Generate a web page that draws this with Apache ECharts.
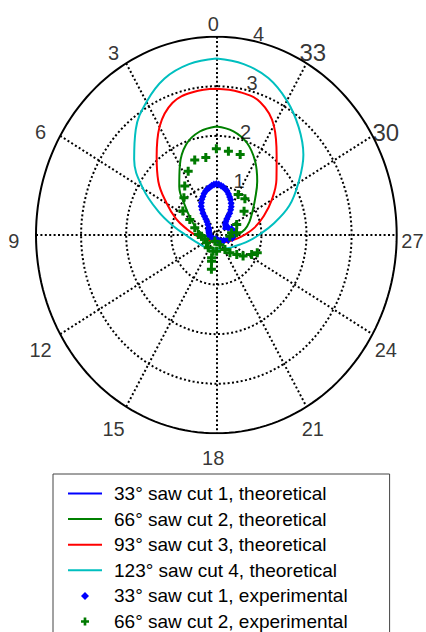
<!DOCTYPE html>
<html>
<head>
<meta charset="utf-8">
<script src="https://cdn.jsdelivr.net/npm/echarts@6/dist/echarts.min.js"></script>
<style>
  html, body { margin: 0; padding: 0; background: #fff; }
  #chart { width: 426px; height: 632px; }
</style>
</head>
<body>
<div id="chart"></div>
<script>
// angles in degrees, counter-clockwise from the top (0 = up, 90 = left)
const theoryAngles = [0, 10, 20, 30, 40, 50, 60, 70, 80, 90, 100, 110, 120, 130, 140, 150, 160, 170, 180,
  190, 200, 210, 220, 230, 240, 250, 260, 270, 280, 290, 300, 310, 320, 330, 340, 350, 360];

const cut1Theory = [1.02, 0.98, 0.87, 0.68, 0.36, 0.16, 0.14, 0.17, 0.20, 0.20, 0.17, 0.13, 0.10, 0.08, 0.07, 0.06, 0.06, 0.06, 0.06,
  0.06, 0.07, 0.08, 0.10, 0.12, 0.16, 0.22, 0.30, 0.38, 0.38, 0.32, 0.24, 0.20, 0.36, 0.68, 0.88, 0.98, 1.02];
const cut2Theory = [2.19, 2.12, 1.95, 1.62, 1.28, 0.90, 0.66, 0.50, 0.38, 0.28, 0.21, 0.17, 0.14, 0.12, 0.11, 0.10, 0.10, 0.10, 0.10,
  0.10, 0.11, 0.12, 0.13, 0.15, 0.18, 0.23, 0.32, 0.46, 0.64, 0.78, 0.92, 1.12, 1.41, 1.72, 1.98, 2.13, 2.19];
const cut3Theory = [2.95, 2.93, 2.84, 2.52, 2.06, 1.68, 1.27, 0.95, 0.66, 0.47, 0.35, 0.27, 0.22, 0.19, 0.17, 0.15, 0.14, 0.13, 0.13,
  0.14, 0.15, 0.16, 0.19, 0.22, 0.27, 0.34, 0.45, 0.62, 0.86, 1.12, 1.42, 1.74, 2.08, 2.55, 2.85, 2.93, 2.95];
const cut4Theory = [3.56, 3.50, 3.36, 3.10, 2.78, 2.38, 1.88, 1.36, 0.95, 0.68, 0.54, 0.45, 0.40, 0.36, 0.33, 0.31, 0.29, 0.28, 0.27,
  0.28, 0.30, 0.32, 0.35, 0.40, 0.46, 0.56, 0.72, 0.94, 1.28, 1.72, 2.10, 2.52, 2.84, 3.13, 3.37, 3.50, 3.56];

const cut1ExpAngles = [0, 3, 6, 9, 12, 15, 18, 21, 24, 27, 30, 32, 34, 35, 36, 38, 42, 50, 60, 70, 80, 95, 110, 140, 180,
  200, 215, 235, 250, 260, 270, 280, 290, 300, 312, 318, 322, 324, 325, 326, 328, 330, 333, 336, 339, 342, 345, 348, 351, 354, 357];
const cut1ExpRadii = [1.03, 1.02, 1.00, 0.97, 0.95, 0.92, 0.88, 0.83, 0.79, 0.73, 0.67, 0.60, 0.53, 0.46, 0.40, 0.34, 0.28, 0.22, 0.20, 0.18, 0.16, 0.15, 0.12, 0.10, 0.08,
  0.12, 0.15, 0.20, 0.28, 0.36, 0.41, 0.40, 0.36, 0.30, 0.28, 0.30, 0.34, 0.40, 0.46, 0.53, 0.60, 0.66, 0.72, 0.78, 0.82, 0.87, 0.92, 0.95, 0.98, 1.00, 1.02];

const cut2ExpAngles = [0, 8.5, 17.6, 25.9, 35.4, 43.8, 57, 62, 73, 88.6, 94, 109, 126, 145, 165, 167, 167.7, 168.6, 171, 181,
  202, 213, 220, 229, 234.3, 243.3, 248.4, 265, 275.6, 277.4, 295.3, 308, 319.1, 329.4, 342, 351];
const cut2ExpRadii = [1.74, 1.58, 1.585, 1.43, 1.21, 1.04, 0.886, 0.667, 0.50, 0.40, 0.33, 0.27, 0.27, 0.316, 0.13, 0.47, 0.335, 0.54, 0.70, 0.33,
  0.21, 0.35, 0.47, 0.60, 0.73, 0.876, 0.976, 0.30, 0.45, 0.34, 0.50, 0.78, 0.967, 0.95, 1.71, 1.71];

const angleTicks = [0, 30, 60, 90, 120, 150, 180, 210, 240, 270, 300, 330];
const angleTickLabels = ['0', '3', '6', '9', '12', '15', '18', '21', '24', '27', '30', '33'];
const radiusTicks = [1, 2, 3, 4];

const seriesNames = [
  '33° saw cut 1, theoretical',
  '66° saw cut 2, theoretical',
  '93° saw cut 3, theoretical',
  '123° saw cut 4, theoretical',
  '33° saw cut 1, experimental',
  '66° saw cut 2, experimental'
];
const seriesColors = ['#0000ff', '#008000', '#ff0000', '#00bfbf', '#0000ff', '#007a00'];

const FONT = '"Liberation Sans", Arial, Helvetica, sans-serif';
const RMAX = 4;

function toXY(theta, r) {
  const a = theta * Math.PI / 180;
  return [-r * Math.sin(a), r * Math.cos(a)];
}

function polarPairs(angles, radii) {
  return angles.map((t, i) => toXY(t, radii[i]));
}

// grid geometry
const ringCoords = radiusTicks.map(r => {
  const pts = [];
  for (let t = 0; t <= 360; t += 2) pts.push(toXY(t, r));
  return pts;
});
const spokeCoords = angleTicks.slice(0, 6).map(t => [toXY(t, RMAX), toXY(t + 180, RMAX)]);

const dotted = { color: '#000', width: 2, type: [2, 2.4], cap: 'butt', opacity: 1 };

const series = [
  {
    type: 'lines', coordinateSystem: 'cartesian2d', polyline: true, silent: true, z: 1,
    lineStyle: dotted,
    data: ringCoords.slice(0, 3).map(c => ({ coords: c }))
  },
  {
    type: 'lines', coordinateSystem: 'cartesian2d', silent: true, z: 1,
    lineStyle: dotted,
    data: spokeCoords.map(c => ({ coords: c }))
  },
  {
    type: 'lines', coordinateSystem: 'cartesian2d', polyline: true, silent: true, z: 2,
    lineStyle: { color: '#000', width: 2, type: 'solid', opacity: 1 },
    data: [{ coords: ringCoords[3] }]
  }
];

[cut1Theory, cut2Theory, cut3Theory, cut4Theory].forEach((vals, i) => {
  series.push({
    name: seriesNames[i],
    type: 'line',
    data: polarPairs(theoryAngles, vals),
    smooth: 0.4,
    symbol: 'none',
    z: 3 + (3 - i) * 0.1,
    color: seriesColors[i],
    itemStyle: { color: seriesColors[i], opacity: 0 },
    lineStyle: { color: seriesColors[i], width: 2 }
  });
});

series.push({
  name: seriesNames[4],
  type: 'line',
  data: polarPairs(cut1ExpAngles, cut1ExpRadii),
  symbol: 'diamond',
  symbolSize: [7, 8],
  showSymbol: true,
  z: 5,
  color: seriesColors[4],
  itemStyle: { color: seriesColors[4] },
  lineStyle: { opacity: 0, width: 0 }
});

series.push({
  name: seriesNames[5],
  type: 'line',
  data: polarPairs(cut2ExpAngles, cut2ExpRadii),
  symbol: 'path://M3,0h3v3h3v3h-3v3h-3v-3h-3v-3h3z',
  symbolSize: 9,
  showSymbol: true,
  z: 6,
  color: seriesColors[5],
  itemStyle: { color: seriesColors[5] },
  lineStyle: { opacity: 0, width: 0 }
});

// angle labels round the rim
series.push({
  type: 'scatter', symbolSize: 0, silent: true, clip: false, z: 7,
  label: { show: true, position: 'inside', formatter: p => p.name, color: '#000', fontSize: 20, fontFamily: FONT },
  data: angleTicks.map((t, i) => {
    const a = t * Math.PI / 180;
    const item = { name: angleTickLabels[i], value: [-4.42 * Math.sin(a) - 0.07, 4.38 * Math.cos(a) - 0.12] };
    if (angleTickLabels[i] === '30' || angleTickLabels[i] === '33') item.label = { fontSize: 24 };
    return item;
  })
});

// radius labels
series.push({
  type: 'scatter', symbolSize: 0, silent: true, clip: false, z: 7,
  label: { show: true, position: 'inside', formatter: p => p.name, color: '#000', fontSize: 20, fontFamily: FONT },
  data: radiusTicks.map(r => ({ name: String(r), value: [0.146 * r + 0.355, 0.985 * r + 0.11] }))
});

const chart = echarts.init(document.getElementById('chart'), null, { renderer: 'svg' });
chart.setOption({
  animation: false,
  backgroundColor: '#fff',
  grid: { left: 36, right: 29.3, top: 36.7, bottom: 198.7 },
  xAxis: { type: 'value', min: -RMAX, max: RMAX, show: false },
  yAxis: { type: 'value', min: -RMAX, max: RMAX, show: false },
  legend: {
    data: seriesNames,
    orient: 'vertical',
    left: 53,
    top: 474,
    height: 300,
    padding: [10, 42, 10, 14],
    itemWidth: 34,
    itemHeight: 10,
    itemGap: 6.6,
    borderColor: '#444',
    borderWidth: 1,
    selectedMode: false,
    textStyle: { fontSize: 19, lineHeight: 19, color: '#000', fontFamily: FONT, padding: [0, 0, 0, 7] }
  },
  series: series
});
</script>
</body>
</html>
